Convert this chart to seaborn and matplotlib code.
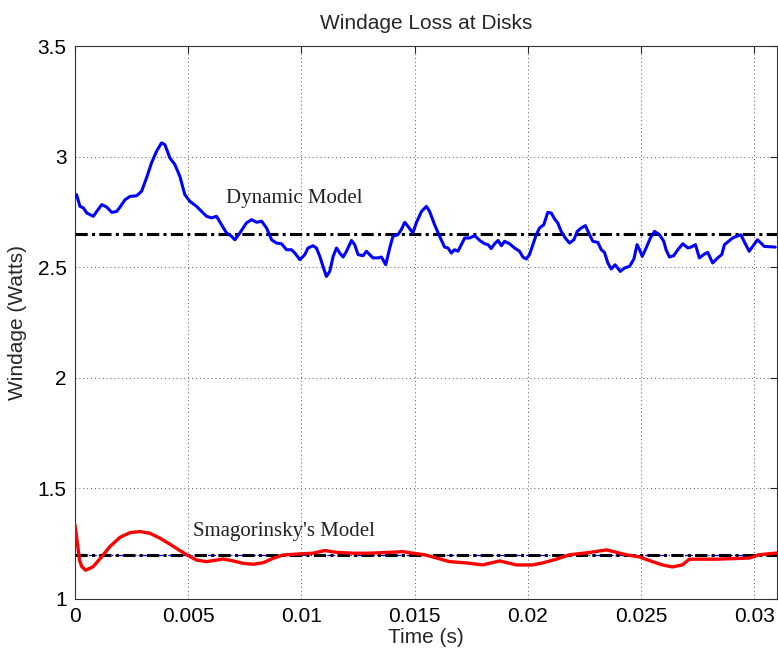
import matplotlib
matplotlib.use("Agg")
import matplotlib.pyplot as plt
import numpy as np
import pandas as pd
import seaborn as sns

# Dynamic model windage trace (time in s, windage in W)
dyn_time = [
    0.00007, 0.00022, 0.00037, 0.00052, 0.00081, 0.00096, 0.00118, 0.0014, 0.00162,
    0.00184, 0.00199, 0.00221, 0.00243, 0.00272, 0.00294, 0.00316, 0.00338, 0.0036,
    0.00382, 0.00397, 0.00419, 0.00441, 0.00463, 0.00485, 0.00507, 0.00537, 0.00559,
    0.00581, 0.00603, 0.00625, 0.00647, 0.00669, 0.00691, 0.00706, 0.00728, 0.00757,
    0.00779, 0.00802, 0.00824, 0.00846, 0.00868, 0.0089, 0.00912, 0.00934, 0.00956,
    0.00971, 0.00993, 0.01015, 0.01029, 0.01051, 0.01066, 0.01081, 0.01095, 0.0111,
    0.01125, 0.0114, 0.01155, 0.01169, 0.01184, 0.01199, 0.01221, 0.01235, 0.0125,
    0.01272, 0.01287, 0.01301, 0.01316, 0.01338, 0.01353, 0.0136, 0.01372, 0.0139,
    0.01404, 0.01426, 0.01441, 0.01456, 0.0147, 0.01492, 0.01507, 0.0153, 0.01552,
    0.01566, 0.01588, 0.0161, 0.01632, 0.01647, 0.01662, 0.01676, 0.01691, 0.01706,
    0.01721, 0.01743, 0.01765, 0.01787, 0.01809, 0.01824, 0.01838, 0.01853, 0.01868,
    0.01883, 0.01897, 0.01919, 0.01941, 0.01963, 0.01978, 0.01993, 0.02007, 0.02022,
    0.02037, 0.02051, 0.0207, 0.02088, 0.02103, 0.02118, 0.02132, 0.02147, 0.02165,
    0.02184, 0.02203, 0.02218, 0.02235, 0.02254, 0.02272, 0.02287, 0.02309, 0.02324,
    0.02338, 0.02353, 0.02368, 0.02385, 0.02408, 0.02426, 0.02449, 0.02468, 0.02482,
    0.02493, 0.02505, 0.02522, 0.02541, 0.02559, 0.02581, 0.026, 0.0261, 0.02625,
    0.02644, 0.02662, 0.02684, 0.02706, 0.02721, 0.0274, 0.02757, 0.02776, 0.02794,
    0.02816, 0.02838, 0.02856, 0.02868, 0.02904, 0.0294, 0.02977, 0.03014, 0.03044,
    0.03092,
]
dyn_watts = [
    2.828, 2.775, 2.768, 2.745, 2.730, 2.752, 2.783, 2.772, 2.748,
    2.752, 2.772, 2.805, 2.820, 2.823, 2.843, 2.904, 2.972, 3.024,
    3.062, 3.054, 2.994, 2.964, 2.911, 2.828, 2.798, 2.775, 2.752,
    2.730, 2.723, 2.730, 2.692, 2.655, 2.640, 2.624, 2.655, 2.700,
    2.715, 2.703, 2.708, 2.677, 2.624, 2.609, 2.606, 2.579, 2.579,
    2.564, 2.534, 2.557, 2.587, 2.597, 2.587, 2.549, 2.504, 2.458,
    2.481, 2.549, 2.587, 2.564, 2.546, 2.572, 2.621, 2.602, 2.557,
    2.552, 2.572, 2.557, 2.542, 2.542, 2.546, 2.534, 2.511, 2.587,
    2.640, 2.647, 2.670, 2.703, 2.685, 2.655, 2.700, 2.752, 2.775,
    2.752, 2.692, 2.640, 2.591, 2.587, 2.564, 2.579, 2.572, 2.602,
    2.632, 2.632, 2.643, 2.621, 2.606, 2.602, 2.584, 2.606, 2.621,
    2.597, 2.617, 2.606, 2.587, 2.572, 2.546, 2.537, 2.557, 2.602,
    2.647, 2.677, 2.692, 2.748, 2.745, 2.718, 2.700, 2.662, 2.632,
    2.609, 2.624, 2.662, 2.677, 2.688, 2.647, 2.617, 2.612, 2.579,
    2.567, 2.519, 2.492, 2.511, 2.481, 2.496, 2.504, 2.537, 2.602,
    2.579, 2.549, 2.587, 2.632, 2.662, 2.647, 2.617, 2.579, 2.546,
    2.552, 2.579, 2.606, 2.587, 2.591, 2.602, 2.542, 2.557, 2.567,
    2.519, 2.542, 2.557, 2.602, 2.632, 2.647, 2.572, 2.624, 2.594,
    2.591,
]

# Smagorinsky model windage trace
smag_time = [
    0.0, 0.0002, 0.0003, 0.00047, 0.0008, 0.00118, 0.00154, 0.00199, 0.00243,
    0.00287, 0.00331, 0.00375, 0.00419, 0.00463, 0.005, 0.00537, 0.00581, 0.00625,
    0.00654, 0.00699, 0.00743, 0.00787, 0.00831, 0.00875, 0.00919, 0.00993, 0.01051,
    0.01103, 0.01154, 0.01228, 0.01301, 0.0139, 0.01448, 0.01493, 0.01544, 0.0158,
    0.01654, 0.01728, 0.018, 0.01875, 0.0195, 0.0202, 0.02065, 0.02126, 0.02184,
    0.0227, 0.02347, 0.02435, 0.02493, 0.0255, 0.02594, 0.02638, 0.02682, 0.02713,
    0.0283, 0.02978, 0.0302, 0.031,
]
smag_watts = [
    1.335, 1.176, 1.146, 1.130, 1.146, 1.191, 1.237, 1.279, 1.300,
    1.305, 1.297, 1.275, 1.248, 1.219, 1.196, 1.176, 1.169, 1.176,
    1.181, 1.172, 1.161, 1.157, 1.164, 1.184, 1.199, 1.204, 1.207,
    1.219, 1.211, 1.207, 1.207, 1.211, 1.214, 1.207, 1.200, 1.190,
    1.169, 1.163, 1.154, 1.172, 1.154, 1.154, 1.163, 1.180, 1.200,
    1.210, 1.222, 1.200, 1.190, 1.169, 1.154, 1.145, 1.154, 1.180,
    1.180, 1.185, 1.200, 1.208,
]

# Time-averaged levels of each model
dyn_mean = 2.65
smag_mean = 1.2

x_ticks = [0, 0.005, 0.01, 0.015, 0.02, 0.025, 0.03]
x_tick_labels = ["0", "0.005", "0.01", "0.015", "0.02", "0.025", "0.03"]
y_ticks = [1, 1.5, 2, 2.5, 3, 3.5]
y_tick_labels = ["1", "1.5", "2", "2.5", "3", "3.5"]

sns.set_style("white")
plt.rcParams["font.family"] = ["Liberation Sans", "DejaVu Sans"]

dyn_df = pd.DataFrame({"time": dyn_time, "watts": dyn_watts})
smag_df = pd.DataFrame({"time": smag_time, "watts": smag_watts})

fig = plt.figure(figsize=(7.78, 6.54), dpi=100)
ax = fig.add_axes([75 / 778, 1 - 599 / 654, 702 / 778, 553 / 654])

# Mean levels (thin blue trace beneath the black reference at the lower level)
ax.axhline(smag_mean, color="#0000ff", lw=0.9, ls="-.", zorder=2)
for level in (dyn_mean, smag_mean):
    ref = ax.axhline(level, color="black", lw=2.2, zorder=3)
    ref.set_dashes([4, 1.4, 1, 1.4])

sns.lineplot(data=dyn_df, x="time", y="watts", ax=ax, color="#0000ff",
             lw=2.2, estimator=None, sort=False, zorder=4)
sns.lineplot(data=smag_df, x="time", y="watts", ax=ax, color="#ff0000",
             lw=2.4, estimator=None, sort=False, zorder=4)

ax.set_xlim(0, 0.031)
ax.set_ylim(1, 3.5)
ax.set_xticks(x_ticks)
ax.set_xticklabels(x_tick_labels)
ax.set_yticks(y_ticks)
ax.set_yticklabels(y_tick_labels)

ax.grid(True, color="#555555", ls=(0, (1, 3)), lw=0.7)
ax.tick_params(direction="in", length=5, width=0.8, top=True, right=True,
               labelsize=15, pad=6, colors="#222222")
ax.tick_params(axis="x", labelcolor="black")
ax.tick_params(axis="y", labelcolor="black")
for sp in ax.spines.values():
    sp.set_visible(True)
    sp.set_color("#333333")
    sp.set_linewidth(0.8)

ax.set_xlabel("Time (s)", fontsize=15, labelpad=1)
ax.set_ylabel("Windage (Watts)", fontsize=15, labelpad=8)
ax.set_title("Windage Loss at Disks", fontsize=15, pad=12)

ax.text(0.00666, 2.81, "Dynamic Model", family=["Liberation Serif", "DejaVu Serif"],
        fontsize=15, va="center", ha="left", color="#222222")
ax.text(0.0052, 1.305, "Smagorinsky's Model", family=["Liberation Serif", "DejaVu Serif"],
        fontsize=15, va="center", ha="left", color="#222222")

fig.savefig("out.png", dpi=100)
